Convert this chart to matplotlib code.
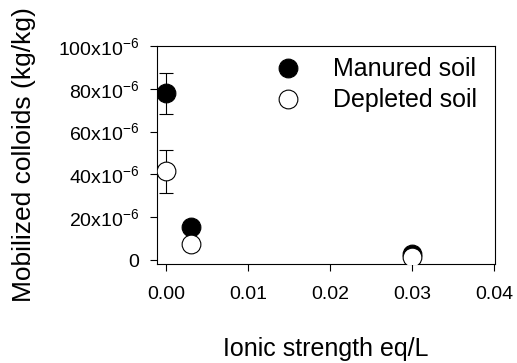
import numpy as np
import matplotlib
matplotlib.use("Agg")
import matplotlib.pyplot as plt
from matplotlib.ticker import FuncFormatter

plt.rcParams['font.family'] = ['Liberation Sans', 'DejaVu Sans']
plt.rcParams['mathtext.default'] = 'regular'

# ionic strength (eq/L) and mobilized colloids (kg/kg)
ionic = [0.0, 0.003, 0.03]
manured = [78e-6, 15.4e-6, 3.0e-6]
manured_err = [9.6e-6, 0, 0]
depleted = [41.5e-6, 7.5e-6, 1.5e-6]
depleted_err = [10.0e-6, 0, 0]

x_ticks = [0.0, 0.01, 0.02, 0.03, 0.04]
y_ticks = [0, 20e-6, 40e-6, 60e-6, 80e-6, 100e-6]

fig = plt.figure(figsize=(5.17, 3.63), dpi=100)
ax = fig.add_axes([0.3037, 0.2727, 0.6537, 0.6006])

ax.errorbar(ionic, manured, yerr=manured_err, fmt='o', color='black',
            mfc='black', mec='black', ms=13.5, mew=0.8, ecolor='black',
            elinewidth=0.8, capsize=5, capthick=0.8, label='Manured soil', zorder=3)
ax.errorbar(ionic, depleted, yerr=depleted_err, fmt='o', color='black',
            mfc='white', mec='black', ms=13.5, mew=0.8, ecolor='black',
            elinewidth=0.8, capsize=5, capthick=0.8, label='Depleted soil', zorder=4)

ax.set_xlim(-0.0011, 0.04006)
ax.set_ylim(-1.87e-6, 100e-6)
ax.set_xticks(x_ticks)
ax.set_yticks(y_ticks)
ax.xaxis.set_major_formatter(FuncFormatter(lambda v, p: f"{v:.2f}"))


def yfmt(v, p):
    n = int(round(v * 1e6))
    return "0" if n == 0 else f"{n}x10$^{{-6}}$"


ax.yaxis.set_major_formatter(FuncFormatter(yfmt))
ax.tick_params(direction='out', length=5, width=0.8, labelsize=14, top=False, right=False)
ax.tick_params(axis='x', pad=11)
ax.tick_params(axis='y', pad=8)
for s in ax.spines.values():
    s.set_linewidth(0.8)

ax.set_xlabel('Ionic strength eq/L', fontsize=18, labelpad=24)
ax.set_ylabel('Mobilized colloids (kg/kg)', fontsize=19, labelpad=16)

handles, labels = ax.get_legend_handles_labels()
handles = [h[0] for h in handles]
ax.legend(handles, labels, loc='upper left', bbox_to_anchor=(0.533, 0.842),
          bbox_transform=fig.transFigure, frameon=False, fontsize=18,
          handlelength=1.0, handletextpad=1.3, labelspacing=0.28,
          borderpad=0, borderaxespad=0, numpoints=1)

fig.savefig('out.png', dpi=100)
